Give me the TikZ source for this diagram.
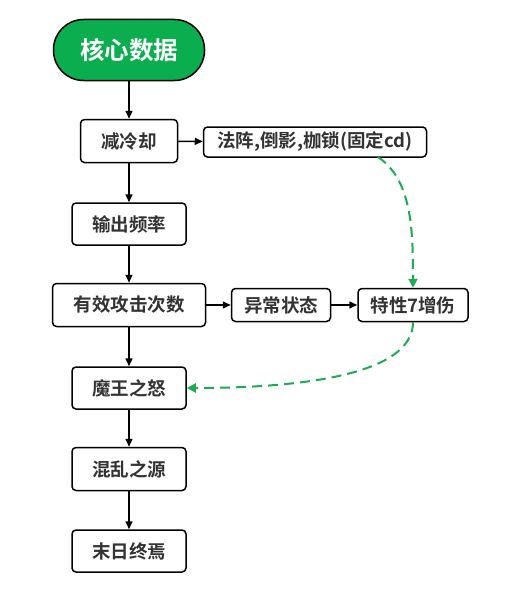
\documentclass[tikz,border=0pt]{standalone}
\usepackage{fontspec}
\setmainfont{Noto Sans CJK SC}[BoldFont={* Bold}]
\usetikzlibrary{arrows.meta}
\definecolor{hdgreen}{HTML}{0BAE4F}
\definecolor{txtgray}{HTML}{333333}
\definecolor{dashgreen}{HTML}{1FAA55}
\begin{document}
\begin{tikzpicture}[x=1pt,y=-1pt,
  box/.style={draw=black,line width=1.5pt,rounded corners=4pt,fill=white,inner sep=0pt,
    font=\fontsize{18.5}{20}\selectfont\bfseries,text=txtgray,align=center},
  conn/.style={line width=1.5pt,-{Triangle[length=8pt,width=7pt]}},
  gconn/.style={draw=dashgreen,line width=2pt,dash pattern=on 10pt off 6pt,-{Triangle[length=9pt,width=9pt,fill=dashgreen]}}]
\useasboundingbox (0,0) rectangle (515,594);
\node[draw=black,line width=1.5pt,fill=hdgreen,rounded corners=30pt,minimum width=151pt,minimum height=61pt,
  text=white,font=\fontsize{24.5}{26}\selectfont\bfseries] (core) at (129,50) {核心数据};
\node[box,minimum width=97pt,minimum height=43pt] (jlq) at (129,141) {减冷却};
\node[box,minimum width=223pt,minimum height=30pt] (fz) at (315,142) {法阵,倒影,枷锁(固定cd)};
\node[box,minimum width=114pt,minimum height=42pt] (sc) at (129,224) {输出频率};
\node[box,minimum width=153pt,minimum height=43pt] (yx) at (129,305) {有效攻击次数};
\node[box,minimum width=99pt,minimum height=33pt] (yc) at (281,305) {异常状态};
\node[box,minimum width=110pt,minimum height=33pt] (tx) at (413,305) {特性7增伤};
\node[box,minimum width=114pt,minimum height=42pt] (mw) at (129,388) {魔王之怒};
\node[box,minimum width=114pt,minimum height=43pt] (hl) at (129,469) {混乱之源};
\node[box,minimum width=114pt,minimum height=42pt] (mr) at (129,551) {末日终焉};
\coordinate (fzout) at (378,157);
\draw[conn] (core) -- (jlq);
\draw[conn] (jlq) -- (fz);
\draw[conn] (jlq) -- (sc);
\draw[conn] (sc) -- (yx);
\draw[conn] (yx) -- (yc);
\draw[conn] (yc) -- (tx);
\draw[conn] (yx) -- (mw);
\draw[conn] (mw) -- (hl);
\draw[conn] (hl) -- (mr);
\draw[gconn] (fzout) .. controls (412,180) and (413,230) .. (tx.north);
\draw[gconn] (tx.south) .. controls (413,375) and (300,388) .. (mw.east);
\end{tikzpicture}
\end{document}
